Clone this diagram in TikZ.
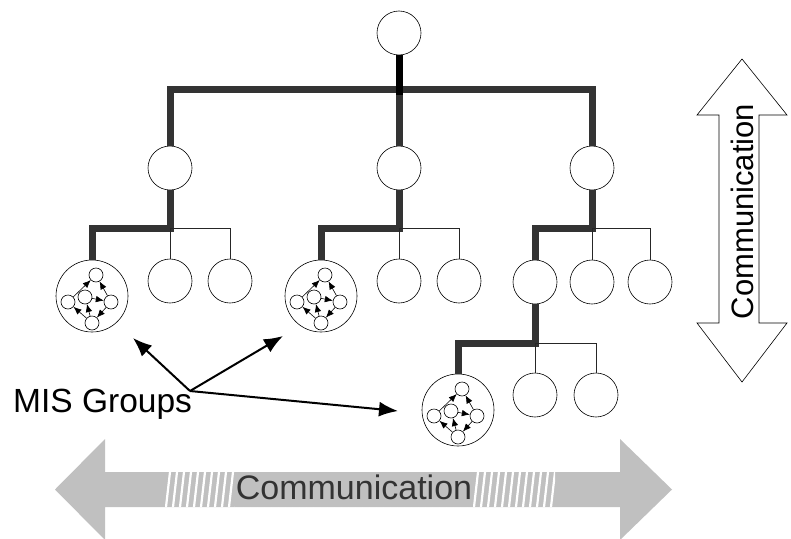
\documentclass[tikz,border=0pt]{standalone}
\usepackage{fontspec}
\setmainfont{Liberation Sans}
\usetikzlibrary{calc, positioning, arrows.meta}
\definecolor{bandgray}{HTML}{C0C0C0}
\newcommand{\CommLabel}{Communication}
\newcommand{\GroupLabel}{MIS Groups}
\newcommand{\LinkColor}{black!80}

\begin{document}
\begin{tikzpicture}[
	x=1pt, y=-1pt,
	tree node/.style={
		draw,
		circle,
		fill=white,
		minimum size=44pt,
		inner sep=0,
		line width=0.6pt
	},
	mis group/.style={
		tree node,
		minimum size=72pt
	},
	mis member/.style={
		tree node,
		minimum size=14pt
	},
	mis arrow/.style={
		-{Latex[length=8pt,width=6.5pt]},
		line width=0.6pt
	},
	thick link/.style={
		draw=\LinkColor,
		line width=7pt
	},
	root link/.style={
		draw=black,
		line width=7pt
	},
	thin link/.style={
		draw=black!85,
		line width=0.7pt
	},
	pointer/.style={
		-{Latex[length=19pt,width=15pt]},
		line width=2pt
	},
	group label/.style={
		anchor=base west,
		inner sep=0,
		font=\fontsize{33.5}{38}\selectfont
	},
	band label/.style={
		anchor=base,
		fill=bandgray,
		text=black!80,
		inner xsep=1pt,
		inner ysep=0,
		text height=27pt,
		text depth=8pt,
		font=\fontsize{34}{38}\selectfont
	},
	side label/.style={
		anchor=base,
		rotate=90,
		inner sep=0,
		font=\fontsize{31}{36}\selectfont
	}
]
	\useasboundingbox (0,0) rectangle (791,538);

	% communication arrows
	\fill[bandgray] (55,489.5) -- (105,439) -- (105,472) -- (620,472) -- (620,439)
		-- (672,489.5) -- (620,540) -- (620,507) -- (105,507) -- (105,540) -- cycle;
	\begin{scope}
		\clip (165,472) rectangle (555,507);
		\foreach \s in {168,175,...,553}
			\draw[white, line width=2.2pt] (\s-2,507) -- (\s+2,472);
	\end{scope}
	\node[band label] (band text) at (354,499) {\CommLabel};

	\filldraw[fill=white, draw=black, line width=0.6pt] (742,59) -- (787,115) -- (759,115)
		-- (759,323) -- (787,323) -- (742,382) -- (697,323) -- (719,323)
		-- (719,115) -- (697,115) -- cycle;
	\node[side label] (side text) at (753,211.5) {\CommLabel};

	% tree
	\node[tree node] (root) at (399,33) {};
	\foreach \h/\x in {1/170, 2/399, 3/592}
		\node[tree node] (hub \h) at (\x,168) {};
	\node[tree node] (hub 4) at (535,282) {};
	\foreach \n/\x/\y in {1 1/170/281, 1 2/230/281, 2 1/399/281, 2 2/459/281,
			3 1/592/282, 3 2/650/282, 4 1/535/395, 4 2/596/395}
		\node[tree node] (leaf \n) at (\x,\y) {};

	% MIS groups
	\foreach \g/\gx/\gy in {1/92/296, 2/321/296, 3/458/410} {
		\node[mis group] (mis \g) at (\gx,\gy) {};
		\node[mis member] (mis \g top) at ($(mis \g)+(4,-21)$) {};
		\node[mis member] (mis \g left) at ($(mis \g)+(-24,6)$) {};
		\node[mis member] (mis \g mid) at ($(mis \g)+(-7,1)$) {};
		\node[mis member] (mis \g right) at ($(mis \g)+(19,6)$) {};
		\node[mis member] (mis \g low) at ($(mis \g)+(0,27)$) {};
		\draw[mis arrow] (mis \g left) -- (mis \g top);
		\draw[mis arrow] (mis \g right) -- (mis \g top);
		\draw[mis arrow] (mis \g mid) -- (mis \g right);
		\draw[mis arrow] (mis \g low) -- (mis \g left);
		\draw[mis arrow] (mis \g low) -- (mis \g mid);
		\draw[mis arrow] (mis \g right) -- (mis \g low);
	}

	% links
	\coordinate (bar) at (399,89);
	\foreach \h/\y in {1/228, 2/228, 3/228, 4/343}
		\coordinate (fork \h) at (hub \h |- 0,\y);
	\draw[thick link] (hub 1) |- (bar) -| (hub 3);
	\draw[thick link] (bar) -- (hub 2);
	\draw[root link] (root) -- ($(bar)+(0,6)$);
	\foreach \h/\target in {1/mis 1, 2/mis 2, 3/hub 4, 4/mis 3} {
		\draw[thick link] (hub \h) -- (fork \h) -| (\target);
		\draw[thin link] (fork \h) -- (leaf \h\space 1);
		\draw[thin link] (fork \h) -| (leaf \h\space 2);
	}

	% labels
	\node[group label] (group label) at (13,412) {\GroupLabel};
	\coordinate (fan) at (190,391);
	\coordinate (aim 1) at (133,338);
	\coordinate (aim 2) at (283,336);
	\coordinate (aim 3) at (398,411);
	\foreach \a in {1,2,3}
		\draw[pointer] (fan) -- (aim \a);
\end{tikzpicture}
\end{document}
